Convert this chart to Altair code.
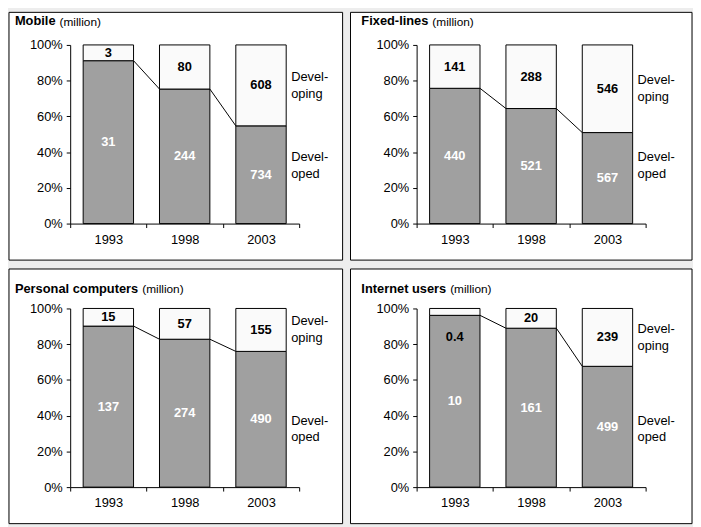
import altair as alt
import numpy as np
import pandas as pd

# ---------------- data ----------------
years = ["1993", "1998", "2003"]
panel_titles = ["Mobile", "Fixed-lines", "Personal computers", "Internet users"]
unit_text = "(million)"
segments = ["Developed", "Developing"]
legend_lines = [["Devel-", "oped"], ["Devel-", "oping"]]
y_ticks = [0, 0.2, 0.4, 0.6, 0.8, 1.0]

mobile_developed = [31, 244, 734]
mobile_developing = [3, 80, 608]
fixed_developed = [440, 521, 567]
fixed_developing = [141, 288, 546]
pc_developed = [137, 274, 490]
pc_developing = [15, 57, 155]
internet_developed = [10, 161, 499]
internet_developing = [0.4, 20, 239]

# ---------------- layout / style ----------------
FONT = "Liberation Sans, Arial, sans-serif"
W, H = 232, 181
BAR_BAND = 0.66
DEV_COLOR = "#a0a0a0"
DVG_COLOR = "#fafafa"
BG = "#ededed"
FS = 13
LINE_H = 17

BOLD_W = {'M': 833, 'o': 611, 'b': 611, 'i': 278, 'l': 278, 'e': 556, 'F': 611,
          'x': 556, 'd': 611, '-': 333, 'n': 611, 's': 556, 'P': 667, 'r': 389,
          'a': 556, 'c': 556, 'm': 889, 'p': 611, 'u': 611, 't': 333, ' ': 278,
          'I': 278}


def bold_width(s, size):
    return sum(BOLD_W.get(c, 600) for c in s) * size / 1000.0


def panel(title, dev, dvg, box, title_xy):
    rows = []
    shares = []
    for yr, a, b in zip(years, dev, dvg):
        s = a / (a + b)
        shares.append(s)
        rows.append(dict(year=yr, segment=segments[0], y0=0.0, y1=s, value=a))
        rows.append(dict(year=yr, segment=segments[1], y0=s, y1=1.0, value=b))
    df = pd.DataFrame(rows)
    df["label"] = [f"{v:g}" for v in df["value"]]
    thin = (df["y1"] - df["y0"]) < 0.06
    df["label_y"] = np.where(thin, df["y0"] - 0.12, (df["y0"] + df["y1"]) / 2)
    df["label_color"] = np.where(df["segment"] == segments[0], "white", "black")

    conn = pd.DataFrame({"year": years[:-1], "next": years[1:],
                         "s": shares[:-1], "s_next": shares[1:]})

    xs = alt.Scale(domain=years, paddingInner=0, paddingOuter=0)
    ys = alt.Scale(domain=[0, 1], nice=False, zero=True)
    xa = alt.Axis(title=None, labelAngle=0, tickBand="extent", tickSize=4,
                  labelPadding=6, domainColor="black", tickColor="black",
                  labelColor="black", labelFont=FONT, labelFontSize=FS,
                  zindex=1, grid=False)
    ya = alt.Axis(title=None, values=y_ticks, format=".0%", tickSize=4,
                  labelPadding=4, domainColor="black", tickColor="black",
                  labelColor="black", labelFont=FONT, labelFontSize=FS,
                  zindex=1, grid=False)

    frame = alt.Chart(alt.Data(values=[{}])).mark_rect(
        fill="white", stroke="black", strokeWidth=1
    ).encode(x=alt.value(box[0]), x2=alt.value(W + box[1]),
             y=alt.value(box[2]), y2=alt.value(H + box[3]))

    bars = alt.Chart(df).mark_bar(
        width={"band": BAR_BAND}, stroke="black", strokeWidth=1
    ).encode(
        x=alt.X("year:N", scale=xs, axis=xa),
        y=alt.Y("y0:Q", scale=ys, axis=ya),
        y2="y1:Q",
        fill=alt.Fill("segment:N", scale=alt.Scale(domain=segments,
                      range=[DEV_COLOR, DVG_COLOR]), legend=None),
    )

    lines = alt.Chart(conn).mark_rule(color="black", strokeWidth=1).encode(
        x=alt.X("year:N", scale=xs, axis=xa, bandPosition=0.5 + BAR_BAND / 2),
        x2=alt.X2("next:N", bandPosition=0.5 - BAR_BAND / 2),
        y=alt.Y("s:Q", scale=ys, axis=ya),
        y2="s_next:Q",
    )

    texts = alt.Chart(df).mark_text(
        font=FONT, fontSize=FS, fontWeight="bold", baseline="middle"
    ).encode(
        x=alt.X("year:N", scale=xs, axis=xa),
        y=alt.Y("label_y:Q", scale=ys, axis=ya),
        text="label:N",
        color=alt.Color("label_color:N", scale=None),
    )

    leg_vals = [{"lines": l, "ly": v} for l, v in
                zip(legend_lines, [0.325, (shares[-1] + 1) / 2])]
    legend = alt.Chart(alt.Data(values=leg_vals)).mark_text(
        align="left", baseline="middle", font=FONT, fontSize=FS,
        lineHeight=LINE_H, dy=-LINE_H / 2, color="black"
    ).encode(
        x=alt.value(W * (2 + 0.5 + BAR_BAND / 2) / 3 + 5),
        y=alt.Y("ly:Q", scale=ys, axis=ya),
        text="lines:N",
    )

    tx, ty = title_xy
    t1 = alt.Chart(alt.Data(values=[{"t": title}])).mark_text(
        align="left", baseline="middle", font=FONT, fontSize=13,
        fontWeight="bold", color="black"
    ).encode(x=alt.value(tx), y=alt.value(ty), text="t:N")
    t2 = alt.Chart(alt.Data(values=[{"t": unit_text}])).mark_text(
        align="left", baseline="middle", font=FONT, fontSize=12, color="black"
    ).encode(x=alt.value(tx + bold_width(title, 13) + 4), y=alt.value(ty + 0.5),
             text="t:N")

    return alt.layer(frame, bars, lines, texts, legend, t1, t2).properties(
        width=W, height=H)


p1 = panel(panel_titles[0], mobile_developed, mobile_developing,
           (-62, 44, -33, 37), (-56, -24))
p2 = panel(panel_titles[1], fixed_developed, fixed_developing,
           (-67, 47, -33, 37), (-56, -24))
p3 = panel(panel_titles[2], pc_developed, pc_developing,
           (-62, 44, -40, 37), (-56, -20))
p4 = panel(panel_titles[3], internet_developed, internet_developing,
           (-67, 47, -40, 37), (-56, -20))

chart = alt.vconcat(
    alt.hconcat(p1, p2, spacing=6),
    alt.hconcat(p3, p4, spacing=6),
    spacing=7,
).properties(background=BG, padding=0).configure_view(stroke=None)

chart.save("out.html", embed_options={"renderer": "svg", "actions": False})
